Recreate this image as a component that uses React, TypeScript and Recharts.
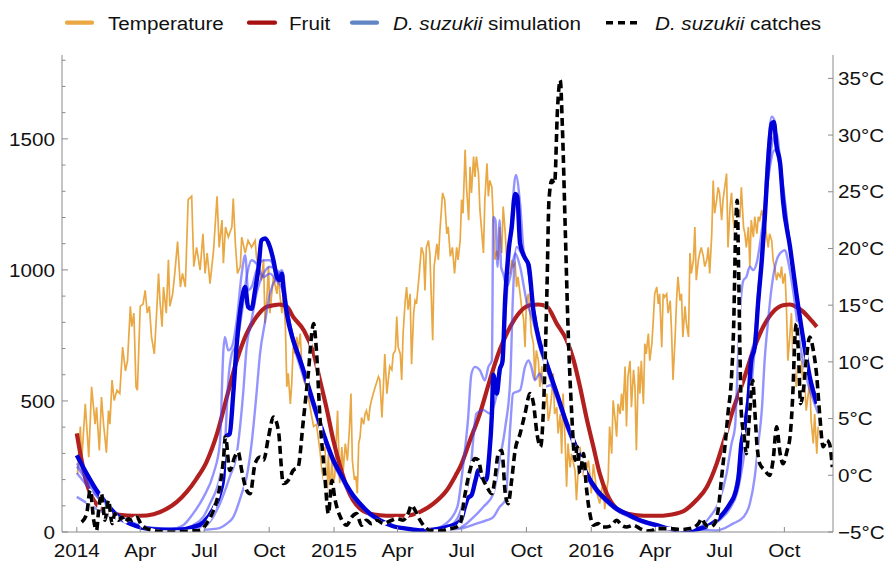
import React from 'react';
import { LineChart, Line, XAxis, YAxis } from 'recharts';

type P = [number, number][];

// day index: 0 = 1 Jan 2014
const temperature2014: P = [
  [1,0.1],[5,4.3],[7,1.3],[12,6.3],[17,1.6],[21,7.8],[26,4.5],[28,6.0],[32,2.2],[35,6.9],[38,4.5],[42,2.0],[45,5.7],[47,4.5],[50,8.4],[53,6.6],[57,7.5],[61,7.2],[65,11.3],[69,9.2],[72,10.1],[76,14.9],[78,13.1],[81,14.3],[84,7.8],[86,7.5],[90,14.9],[94,15.1],[97,16.3],[100,14.3],[103,14.9],[106,12.2],[110,10.7],[113,14.0],[116,17.8],[118,15.4],[121,13.1],[123,16.6],[127,14.3],[130,19.0],[132,14.9],[136,16.0],[139,17.8],[143,20.6],[147,16.6],[150,17.8],[154,16.6],[158,24.3],[163,24.6],[166,18.4],[170,20.1],[175,18.1],[179,21.3],[182,17.8],[185,19.6],[189,16.9],[194,19.8],[199,24.6],[202,20.1],[206,22.5],[208,18.7],[211,21.9],[215,21.0],[220,21.9],[222,24.4],[225,20.4],[228,17.8],[232,18.4],[234,21.0],[239,19.6],[243,20.7],[248,20.1],[253,20.7],[255,19.2],[260,17.8],
  [262,17.2],[265,19.0],[267,13.4],[270,16.0],[272,18.4],[274,14.3],[279,17.5],[284,16.0],[286,17.8],[288,16.0],[291,14.3],[293,16.0],[296,13.1],[298,7.8],[300,9.0],[303,6.3],[305,8.1],[307,11.3],[310,10.7],[312,12.2],[314,11.0],[317,12.5],[319,10.1],[322,8.4],[326,7.8],[331,6.0],[336,4.3],[340,4.5],[345,2.2],[348,0.4],[350,-0.4],[352,2.5],[355,-1.6],[357,1.9],[359,-1.6],[362,1.3],[364,-0.7]
];
const temperature2015: P = [
  [366,-0.1],[370,5.7],[373,-0.7],[376,2.5],[378,0.4],[381,2.8],[384,1.3],[387,4.3],[389,7.2],[391,1.3],[394,-0.4],[396,-0.1],[398,-1.6],[400,2.8],[402,3.4],[404,5.1],[407,4.5],[409,5.4],[411,5.7],[414,4.8],[416,6.0],[418,6.6],[422,7.5],[425,8.1],[428,8.7],[430,8.4],[433,5.1],[435,7.8],[437,10.7],[440,7.2],[442,8.4],[444,9.6],[447,9.3],[449,10.7],[452,11.0],[454,14.0],[456,11.3],[459,10.7],[461,8.4],[463,12.5],[466,15.4],[468,16.6],[470,14.6],[473,16.0],[475,9.8],[478,14.3],[480,15.4],[482,15.1],[486,17.8],[489,20.1],[492,19.5],[494,16.3],[496,20.1],[499,20.7],[501,19.5],[505,11.9],[507,18.4],[511,20.4],[513,19.0],[515,21.3],[519,24.9],[522,24.3],[525,21.3],[527,21.9],[530,19.3],[533,20.1],[536,17.8],[539,20.1],[541,19.0],
  [544,20.7],[546,24.3],[548,23.1],[551,28.7],[553,25.4],[556,22.5],[558,27.2],[560,24.9],[563,28.1],[565,26.3],[567,28.1],[570,26.6],[572,23.4],[574,21.9],[577,19.6],[579,24.3],[582,27.5],[584,24.6],[586,26.0],[589,25.4],[591,22.5],[593,19.0],[596,19.8],[598,19.0],[600,21.9],[603,19.6],[605,23.7],[608,21.3],[610,19.0],[612,17.8],[615,17.8],[617,19.0],[619,18.4],[622,18.7],[624,16.6],[626,17.5],[629,16.0],[631,14.9],[634,13.7],[636,11.3],[638,15.4],[641,16.0],[643,14.3],[645,12.5],[648,11.6],[650,8.4],[652,11.0],[655,10.1],[657,7.8],[660,9.6],[662,6.6],[664,6.0],[667,7.2],[669,4.8],[671,5.4],[674,7.2],[676,9.0],[678,5.4],[681,6.0],[683,3.7],[686,5.4],[688,1.9],[690,7.2],[693,2.8],[695,-1.0],[697,2.8],[700,0.7],[702,1.9],[704,1.3],[707,0.4],[709,-2.2],[712,1.0],[714,2.5],[716,1.3],[719,-0.1],[721,1.6],[723,0.4],[726,1.3],[728,0.1]
];
const temperature2016: P = [
  [730,-1.6],[733,1.0],[738,-1.6],[742,-2.5],[747,-0.4],[749,-3.0],[752,-1.3],[754,-0.4],[756,4.3],[759,1.9],[761,6.6],[764,4.8],[766,3.4],[768,6.3],[771,5.4],[773,7.2],[775,5.7],[778,9.6],[780,4.3],[782,8.7],[785,10.1],[787,6.0],[790,9.3],[792,7.8],[794,2.2],[797,9.6],[799,7.2],[801,10.1],[804,6.3],[806,11.6],[808,10.7],[811,12.5],
  [813,10.1],[816,11.6],[818,13.7],[820,16.0],[823,16.6],[825,15.1],[827,16.0],[830,11.3],[832,16.0],[834,15.7],[837,16.0],[839,14.3],[842,15.4],[844,12.5],[846,8.4],[849,12.2],[851,15.4],[853,17.5],[856,15.4],[858,16.0],[860,12.2],[863,14.9],[865,13.4],[868,12.2],[870,19.6],[872,17.8],[875,19.0],[877,21.9],[879,17.2],[882,19.0],[884,19.6],[886,20.1],[889,19.3],[891,18.4],[894,19.0],[896,20.1],[898,17.8],[901,21.3],[903,26.0],[905,23.1],[908,24.3],[910,25.4],[912,24.9],[915,22.5],[917,24.3],[920,25.7],[922,26.6],[924,20.1],[927,23.7],[929,24.9],[931,22.8],[934,21.0],[936,22.5],[941,22.8],[943,25.4],[946,21.9],[948,21.3],[950,20.1],[953,21.9],[955,18.4],[957,22.5],[960,21.0],[962,22.8],[965,21.3],[967,22.8],[969,22.5],[972,23.4],[974,22.8],[976,22.5],[979,21.0],[981,20.1],[983,21.3],[986,20.7],[988,19.0],[990,18.4],[993,17.2],[995,17.8],[998,17.5],[1000,18.4],[1002,16.9],[1005,17.8],[1007,14.6],[1009,10.1],[1012,12.5],[1014,14.3],[1016,10.7],[1019,9.0],[1021,7.8],[1024,10.7],[1026,7.2],[1028,10.1],[1031,8.4],[1033,7.8],[1035,5.7],[1038,7.2],[1040,8.4],[1042,4.8],[1045,2.8],[1047,5.4],[1050,1.9],[1052,4.3]
];

const fruit: P = [
  [0,376],[5,299],[14,185],[24,121],[38,83],[52,68],[71,63],[90,62],[109,68],[128,89],[142,115],[156,153],[170,204],[184,267],[199,375],[213,516],[227,655],[241,757],[255,821],[269,859],[279,865],[287,868],[298,860],[307,821],[322,770],[336,681],[345,579],[355,465],[364,350],[374,248],[383,172],[392,121],[402,89],[416,70],[430,64],[449,62],[468,62],[487,77],[506,108],[525,159],[539,223],[544,248],[558,350],[572,452],[586,579],[600,694],[615,783],[629,840],[643,865],[655,868],[667,860],[681,795],[695,732],[705,655],[714,554],[723,439],[733,325],[742,223],[752,147],[766,89],[780,70],[804,62],[827,62],[837,64],[861,80],[879,121],[894,172],[908,261],[917,337],[931,465],[946,579],[960,694],[974,783],[988,840],[1002,865],[1012,868],[1021,859],[1031,840],[1040,814],[1050,783]
];

const simulationMain: P = [
  [0,293],[14,223],[28,159],[42,108],[57,64],[71,38],[85,22],[99,13],[118,9],[142,9],[165,19],[180,38],[194,89],[203,146],[208,210],[211,363],[217,375],[222,528],[227,719],[234,884],[239,935],[243,859],[248,852],[253,923],[258,1012],[262,1113],[267,1120],[274,1088],[279,1037],[284,973],[288,961],[291,986],[293,935],[298,833],[307,732],[317,655],[326,579],[336,490],[345,414],[355,337],[364,274],[374,223],[383,178],[392,140],[402,108],[416,70],[430,45],[449,22],[468,13],[487,6],[506,9],[525,19],[539,32],[545,45],[550,90],[555,130],[560,140],[566,200],[570,236],[576,205],[581,198],[585,286],[589,450],[591,600],[596,528],[600,618],[604,650],[608,900],[613,1080],[617,1160],[622,1290],[625,1280],[629,1100],[636,1045],[641,1020],[648,842],[657,720],[667,640],[681,530],[695,415],[709,320],[723,225],[738,160],[752,121],[766,89],[780,70],[799,45],[823,26],[840,13],[861,6],[884,13],[898,26],[908,45],[917,70],[927,108],[934,146],[939,210],[943,337],[948,401],[953,503],[957,655],[962,706],[967,884],[972,1037],[976,1190],[981,1419],[986,1559],[989,1565],[993,1470],[998,1406],[1002,1266],[1012,1088],[1021,910],[1031,732],[1040,592],[1050,490]
];

const simulationA: P = [
  [0,262],[14,205],[28,150],[42,100],[57,62],[71,37],[85,22],[99,14],[118,10],[135,12],[151,26],[165,70],[180,134],[194,223],[203,337],[208,693],[210,744],[215,693],[220,706],[227,808],[234,986],[239,1056],[243,923],[248,935],[255,999],[265,1037],[274,1037],[283,990],[291,960],[298,840],[307,720],[317,630],[326,555],[336,470],[345,395],[355,320],[364,260],[374,208],[383,165],[392,128],[402,98],[416,63],[430,40],[449,20],[468,12],[487,8],[506,12],[525,35],[540,96],[548,250],[555,426],[560,604],[565,630],[572,617],[579,579],[584,630],[589,655],[591,1202],[594,1190],[597,1012],[600,1190],[602,1012],[605,986],[610,935],[615,973],[622,1063],[629,1012],[638,884],[648,800],[657,700],[667,620],[681,510],[695,400],[709,305],[723,212],[738,150],[752,112],[766,82],[780,62],[799,40],[823,22],[840,12],[861,10],[884,19],[898,57],[912,121],[922,223],[929,337],[934,401],[937,579],[941,833],[946,961],[950,973],[955,1012],[960,999],[965,1030],[972,1150],[980,1330],[990,1457],[998,1390],[1005,1250],[1012,1080],[1021,900],[1031,720],[1040,590],[1050,495]
];
const simulationB: P = [
  [0,250],[14,195],[28,140],[42,95],[57,58],[71,35],[85,20],[99,12],[118,8],[142,8],[165,26],[180,60],[189,108],[203,210],[210,325],[215,579],[220,681],[227,719],[234,833],[241,973],[248,1037],[255,1024],[265,973],[274,986],[283,960],[291,930],[298,850],[307,745],[317,665],[326,585],[336,495],[345,418],[355,342],[364,278],[374,226],[383,182],[392,143],[402,110],[416,72],[430,46],[449,23],[468,13],[487,7],[506,8],[525,17],[540,52],[549,120],[558,223],[567,452],[577,465],[586,452],[596,528],[603,655],[610,900],[617,1200],[623,1362],[629,1253],[634,1075],[638,1037],[645,910],[652,790],[667,650],[681,535],[695,425],[709,328],[723,230],[738,165],[752,125],[766,92],[780,72],[799,47],[823,28],[840,14],[861,7],[884,14],[898,28],[908,48],[917,75],[927,115],[934,160],[939,240],[943,350],[948,430],[953,540],[957,680],[962,740],[967,920],[972,1080],[976,1250],[981,1470],[986,1585],[990,1570],[994,1470],[999,1390],[1003,1260],[1012,1095],[1021,915],[1031,740],[1040,600],[1050,505]
];
const simulationC: P = [
  [0,134],[24,95],[47,60],[71,35],[95,20],[120,13],[150,10],[180,19],[203,108],[217,210],[227,299],[236,528],[241,706],[248,808],[255,910],[265,986],[274,1012],[283,1000],[291,975],[298,860],[307,740],[317,655],[326,575],[336,488],[345,410],[355,335],[364,272],[374,220],[383,177],[392,139],[402,106],[416,69],[430,44],[449,21],[468,12],[487,6],[506,6],[525,12],[545,19],[563,57],[577,96],[591,146],[600,274],[608,401],[615,579],[619,910],[624,1088],[631,1063],[638,1037],[648,859],[657,730],[667,630],[681,520],[695,410],[709,315],[723,220],[738,155],[752,118],[766,86],[780,66],[799,43],[823,24],[840,12],[861,6],[884,8],[908,6],[931,32],[946,57],[955,108],[962,210],[967,337],[972,465],[976,655],[981,808],[986,935],[993,1037],[1000,1069],[1005,1075],[1009,1037],[1017,910],[1026,719],[1035,592],[1045,503],[1052,452]
];
const simulationD: P = [
  [0,225],[20,160],[40,105],[60,62],[80,35],[100,18],[130,10],[170,8],[199,13],[213,32],[222,57],[234,146],[241,210],[248,337],[255,528],[260,681],[267,800],[274,910],[284,973],[291,999],[298,870],[307,730],[317,645],[326,565],[336,478],[345,400],[355,328],[364,266],[374,215],[383,172],[392,135],[402,103],[416,66],[430,42],[449,20],[468,11],[487,6],[506,5],[525,8],[544,13],[567,32],[582,45],[591,57],[600,96],[608,121],[615,401],[619,528],[629,541],[636,630],[641,655],[645,630],[650,579],[657,605],[664,554],[672,560],[681,515],[695,405],[709,310],[723,218],[738,152],[752,115],[766,84],[780,64],[799,42],[823,23],[840,12],[861,6],[884,10],[898,20],[912,45],[927,90],[937,150],[945,260],[952,400],[958,580],[964,760],[970,960],[976,1180],[982,1380],[988,1500],[993,1520],[998,1420],[1004,1280],[1012,1090],[1021,905],[1031,730],[1040,595],[1050,500]
];

const catches: P = [
  [7,38],[14,70],[19,159],[24,45],[28,6],[31,83],[35,146],[40,45],[45,121],[50,32],[54,70],[59,45],[64,57],[69,38],[73,51],[78,45],[85,57],[92,26],[99,13],[109,6],[123,0],[142,0],[161,4],[175,6],[184,32],[194,83],[201,146],[208,274],[211,363],[217,235],[224,286],[229,305],[234,235],[241,159],[246,146],[253,261],[260,286],[265,274],[272,363],[279,439],[286,388],[293,185],[300,197],[307,235],[314,248],[321,414],[328,592],[336,795],[340,693],[345,439],[352,210],[357,70],[362,197],[366,130],[374,57],[383,26],[390,57],[397,70],[404,26],[411,45],[418,32],[426,45],[435,32],[447,45],[454,51],[463,45],[470,70],[475,102],[480,83],[487,45],[494,19],[501,6],[511,4],[520,6],[530,13],[539,19],[544,32],[551,146],[558,236],[565,280],[570,274],[574,223],[582,172],[589,146],[593,197],[598,299],[603,312],[608,146],[612,108],[617,197],[622,312],[629,375],[636,452],[643,528],[648,490],[653,375],[658,325],[663,528],[667,910],[670,1266],[674,1342],[678,1330],[682,1610],[686,1724],[689,1546],[693,1164],[697,783],[702,465],[707,274],[710,325],[714,223],[719,299],[723,172],[728,70],[733,26],[740,32],[745,19],[752,19],[759,26],[766,45],[773,26],[780,19],[790,26],[799,13],[809,4],[816,6],[823,13],[842,13],[856,9],[870,13],[882,32],[887,51],[891,32],[898,19],[905,32],[910,83],[915,210],[920,337],[924,452],[929,592],[932,783],[935,1164],[937,1266],[939,1012],[941,681],[943,452],[947,363],[950,299],[955,465],[959,579],[962,465],[965,337],[969,261],[976,236],[983,216],[988,274],[993,401],[998,299],[1002,261],[1008,312],[1012,363],[1016,528],[1019,744],[1021,795],[1024,681],[1027,490],[1031,541],[1035,655],[1040,744],[1045,694],[1050,592],[1054,452],[1059,325],[1064,350],[1068,337],[1072,248]
];

const xTicks = [0, 90, 181, 273, 365, 455, 546, 638, 730, 821, 912, 1004];
const xTickLabels = ['2014', 'Apr', 'Jul', 'Oct', '2015', 'Apr', 'Jul', 'Oct', '2016', 'Apr', 'Jul', 'Oct'];
const countTicks = [0, 100, 200, 300, 400, 500, 600, 700, 800, 900, 1000, 1100, 1200, 1300, 1400, 1500, 1600, 1700, 1800];
const countLabelled = [0, 500, 1000, 1500];
const tempTicks = [-5, 0, 5, 10, 15, 20, 25, 30, 35];

const rows = (p: P) => p.map(([d, v]) => ({ d, v }));
const temperatureRows = rows([...temperature2014, ...temperature2015, ...temperature2016]);

const FONT = '"Liberation Sans", Arial, Helvetica, sans-serif';
const FS = 18.6;
const SX = 1.11;
const AXIS = '#8a8a8a';
const C_TEMP = '#E9A843';
const C_FRUIT = '#B21F1F';
const C_SIM = '#0000D8';
const C_SIM_LIGHT = '#3c3cff';

const Txt = ({ x, y, anchor, children }: any) => (
  <text transform={`translate(${x},${y}) scale(${SX},1)`} x={0} y={0} textAnchor={anchor}
    fontFamily={FONT} fontSize={FS} fill="#111">{children}</text>
);

const LeftTick = (props: any) => {
  const { x, y, payload } = props;
  const v = payload.value;
  const major = countLabelled.includes(v);
  return (
    <g>
      <line x1={x} x2={x + (major ? 6 : 3.5)} y1={y} y2={y} stroke={AXIS} strokeWidth={1} />
      {major && <Txt x={x - 7} y={y + 6.7} anchor="end">{String(v)}</Txt>}
    </g>
  );
};

const RightTick = (props: any) => {
  const { x, y, payload } = props;
  const v = payload.value;
  const label = (v < 0 ? '\u2212' + Math.abs(v) : String(v)) + '\u00B0C';
  return (
    <g>
      <line x1={x - 5} x2={x} y1={y} y2={y} stroke={AXIS} strokeWidth={1} />
      <Txt x={x + 5} y={y + 6.7} anchor="start">{label}</Txt>
    </g>
  );
};

const BottomTick = (props: any) => {
  const { x, y, payload } = props;
  const i = xTicks.indexOf(payload.value);
  return (
    <g>
      <line x1={x} x2={x} y1={y} y2={y - 5} stroke={AXIS} strokeWidth={1} />
      <Txt x={x} y={y + 24.7} anchor="middle">{xTickLabels[i]}</Txt>
    </g>
  );
};

const LegendSvg = () => (
  <svg width={886} height={45} style={{ position: 'absolute', left: 0, top: 0 }}>
    <line x1={67} x2={92} y1={22.7} y2={22.7} stroke={C_TEMP} strokeWidth={4.2} strokeLinecap="round" />
    <Txt x={108} y={30} anchor="start">Temperature</Txt>
    <line x1={249} x2={275} y1={22.7} y2={22.7} stroke="#A80F10" strokeWidth={4.2} strokeLinecap="round" />
    <Txt x={289} y={30} anchor="start">Fruit</Txt>
    <line x1={352} x2={377} y1={22.7} y2={22.7} stroke="#6186C6" strokeWidth={4.2} strokeLinecap="round" />
    <Txt x={393} y={30} anchor="start"><tspan fontStyle="italic">D. suzukii</tspan> simulation</Txt>
    <line x1={606} x2={637} y1={22.7} y2={22.7} stroke="#000" strokeWidth={3.6} strokeDasharray="7 5" />
    <Txt x={655} y={30} anchor="start"><tspan fontStyle="italic">D. suzukii</tspan> catches</Txt>
  </svg>
);

export default function App() {
  const lightProps = {
    yAxisId: 'count', dataKey: 'v', dot: false, isAnimationActive: false,
    stroke: C_SIM_LIGHT, strokeOpacity: 0.55, strokeWidth: 2.4, type: 'monotone' as const,
  };
  return (
    <div style={{ position: 'absolute', left: 0, top: 0, width: 886, height: 561, background: '#fff' }}>
      <LineChart width={886} height={561} margin={{ top: 55, right: 0, bottom: 0, left: 0 }}>
        <XAxis dataKey="d" type="number" domain={[-21, 1073]} allowDataOverflow ticks={xTicks} interval={0}
          height={29} tickLine={false} tickSize={0} tickMargin={0} axisLine={{ stroke: AXIS }} tick={<BottomTick />} />
        <YAxis yAxisId="count" type="number" domain={[0, 1820]} allowDataOverflow ticks={countTicks} interval={0}
          width={62} tickLine={false} tickSize={0} tickMargin={0} axisLine={{ stroke: AXIS }} tick={<LeftTick />} />
        <YAxis yAxisId="temp" orientation="right" type="number" domain={[-5, 37.06]} allowDataOverflow ticks={tempTicks} interval={0}
          width={53} tickLine={false} tickSize={0} tickMargin={0} axisLine={{ stroke: AXIS }} tick={<RightTick />} />
        <Line yAxisId="temp" data={temperatureRows} dataKey="v" type="linear" stroke={C_TEMP} strokeWidth={1.7}
          dot={false} isAnimationActive={false} />
        <Line yAxisId="count" data={rows(fruit)} dataKey="v" type="monotone" stroke={C_FRUIT} strokeWidth={4.2}
          dot={false} isAnimationActive={false} />
        <Line {...lightProps} data={rows(simulationA)} />
        <Line {...lightProps} data={rows(simulationB)} />
        <Line {...lightProps} data={rows(simulationC)} />
        <Line {...lightProps} data={rows(simulationD)} />
        <Line yAxisId="count" data={rows(simulationMain)} dataKey="v" type="monotone" stroke={C_SIM} strokeWidth={4.4}
          strokeLinejoin="round" dot={false} isAnimationActive={false} />
        <Line yAxisId="count" data={rows(catches)} dataKey="v" type="monotone" stroke="#fff" strokeWidth={3.6}
          dot={false} isAnimationActive={false} />
        <Line yAxisId="count" data={rows(catches)} dataKey="v" type="monotone" stroke="#000" strokeWidth={3.6}
          strokeDasharray="8 4.5" dot={false} isAnimationActive={false} />
      </LineChart>
      <LegendSvg />
    </div>
  );
}
